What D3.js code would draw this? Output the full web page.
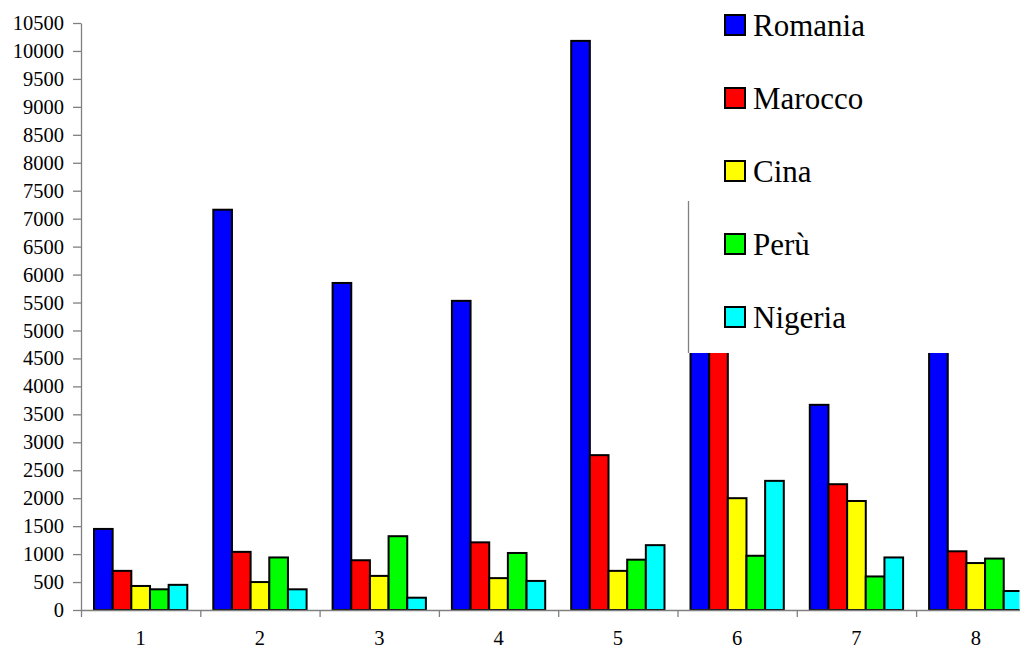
<!DOCTYPE html>
<html>
<head>
<meta charset="utf-8">
<script src="https://cdn.jsdelivr.net/npm/d3@7"></script>
<style>
  body { margin: 0; background: #fff; }
  svg text { font-family: "Liberation Serif", "Times New Roman", Times, "DejaVu Serif", serif; fill: #000; }
</style>
</head>
<body>
<div id="chart"></div>
<script>
// data
var groups = ["1", "2", "3", "4", "5", "6", "7", "8"];
var countries = ["Romania", "Marocco", "Cina", "Perù", "Nigeria"];
var colors = ["#0000ff", "#ff0000", "#ffff00", "#00ff00", "#00ffff"];
var romania = [1450, 7160, 5850, 5530, 10180, 6400, 3670, 6000];
var marocco = [700, 1040, 890, 1210, 2770, 5600, 2250, 1050];
var cina    = [430, 500, 610, 570, 700, 2000, 1950, 840];
var peru    = [370, 940, 1320, 1020, 900, 970, 600, 920];
var nigeria = [450, 370, 220, 520, 1160, 2310, 940, 340];
var yTicks = d3.range(0, 10501, 500);

var series = [romania, marocco, cina, peru, nigeria];

var width = 1025, height = 650;
var x0 = 81, y0 = 610, yTop = 23, bandW = 119.3;
var serif = "'Liberation Serif', 'Times New Roman', Times, 'DejaVu Serif', serif";

var svg = d3.select("#chart")
    .append("svg")
    .attr("width", width)
    .attr("height", height);

// the plot is cut off at the right side
svg.append("defs").append("clipPath")
    .attr("id", "clip")
    .append("rect")
    .attr("x", 0).attr("y", 0)
    .attr("width", 1019.5).attr("height", height);

var y = d3.scaleLinear()
    .domain([0, 10500])
    .range([y0, yTop]);

var xEdge = d3.scaleLinear()
    .domain([0, groups.length])
    .range([x0, x0 + bandW * groups.length]);

var x = d3.scaleBand()
    .domain(groups)
    .range(xEdge.range());

var xInner = d3.scaleBand()
    .domain(d3.range(countries.length))
    .range([13, bandW - 13]);

var plot = svg.append("g").attr("clip-path", "url(#clip)");

// bars
countries.forEach(function (c, i) {
    plot.append("g")
        .selectAll("rect")
        .data(series[i])
        .enter()
        .append("rect")
        .attr("x", function (d, j) { return x(groups[j]) + xInner(i); })
        .attr("y", function (d) { return y(d); })
        .attr("width", xInner.bandwidth())
        .attr("height", function (d) { return y0 - y(d); })
        .style("fill", colors[i])
        .style("stroke", "#000")
        .style("stroke-width", 2);
});

// y axis
var yAxis = svg.append("g")
    .attr("transform", "translate(" + x0 + ",0)")
    .call(d3.axisLeft(y).tickValues(yTicks).tickFormat(d3.format("d"))
        .tickSize(8).tickSizeOuter(0).tickPadding(9));
yAxis.attr("font-family", serif);
yAxis.selectAll("text").style("font-size", "20.5px");

// x axis (ticks sit between the groups)
var xAxis = plot.append("g")
    .attr("transform", "translate(0," + y0 + ")")
    .call(d3.axisBottom(xEdge).tickValues(d3.range(groups.length + 1)).tickFormat("").tickSize(7).tickSizeOuter(0));

svg.selectAll(".domain, .tick line")
    .attr("stroke", "#808080")
    .attr("stroke-width", 1.3);

svg.append("g")
    .selectAll("text")
    .data(groups)
    .enter()
    .append("text")
    .attr("x", function (d) { return x(d) + x.bandwidth() / 2; })
    .attr("y", 645)
    .attr("text-anchor", "middle")
    .style("font-size", "20.5px")
    .text(function (d) { return d; });

// legend, drawn over the plot
var legend = svg.append("g");
legend.append("rect")
    .attr("x", 688.5).attr("y", 0)
    .attr("width", width - 688).attr("height", 353)
    .style("fill", "#fff");
legend.append("line")
    .attr("x1", 688.5).attr("x2", 688.5)
    .attr("y1", 201).attr("y2", 353)
    .attr("stroke", "#808080")
    .attr("stroke-width", 1.3);

var rows = legend.selectAll("g.item")
    .data(countries)
    .enter()
    .append("g")
    .attr("class", "item")
    .attr("transform", function (d, i) { return "translate(0," + (36 + i * 73) + ")"; });

rows.append("rect")
    .attr("x", 725).attr("y", -21)
    .attr("width", 20).attr("height", 20)
    .style("fill", function (d, i) { return colors[i]; })
    .style("stroke", "#000")
    .style("stroke-width", 2);

rows.append("text")
    .attr("x", 753)
    .attr("y", 0)
    .style("font-size", "31px")
    .text(function (d) { return d; });
</script>
</body>
</html>
